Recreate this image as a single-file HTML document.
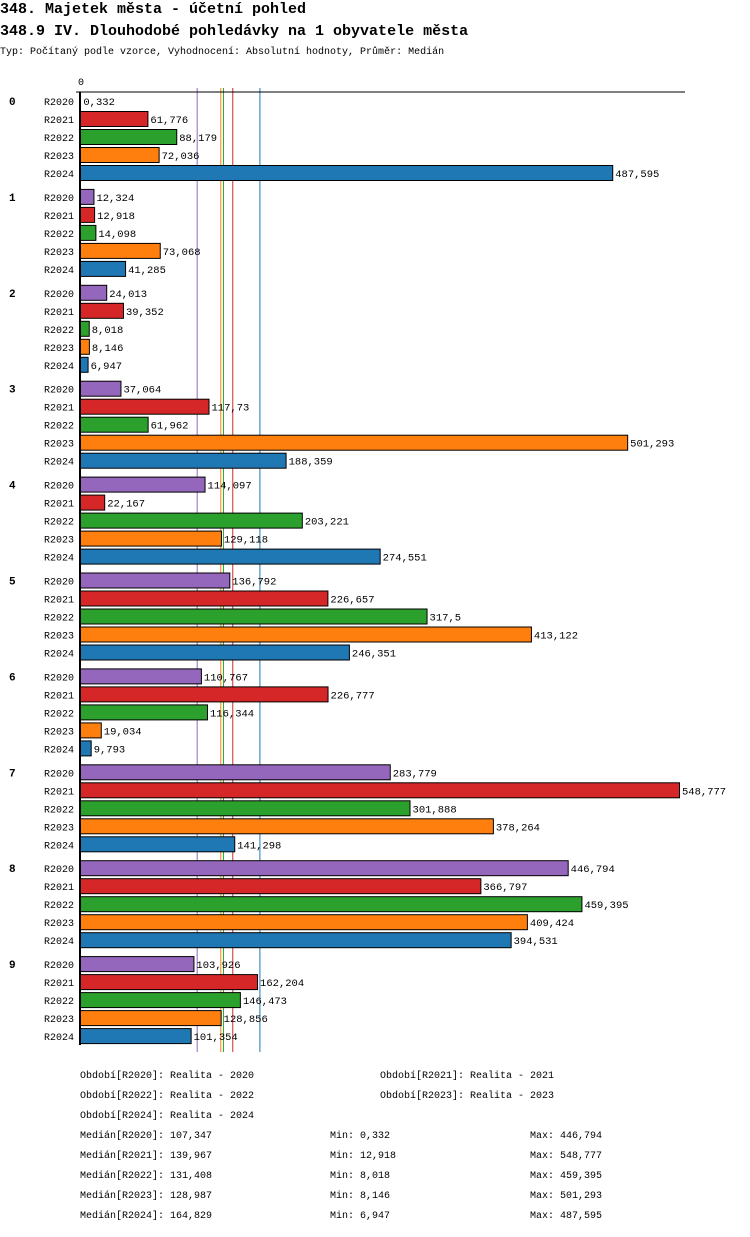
<!DOCTYPE html>
<html><head><meta charset="utf-8"><style>
body{margin:0;background:#fff;width:750px;height:1232px;overflow:hidden;font-family:"Liberation Mono",monospace;}
svg text{font-family:"Liberation Mono",monospace;}
</style></head><body>
<svg id="c" width="750" height="1232" xmlns="http://www.w3.org/2000/svg">
<text x="0" y="13" font-size="15" font-weight="bold">348. Majetek města - účetní pohled</text>
<text x="0" y="35" font-size="15" font-weight="bold">348.9 IV. Dlouhodobé pohledávky na 1 obyvatele města</text>
<text x="0" y="54" font-size="10">Typ: Počítaný podle vzorce, Vyhodnocení: Absolutní hodnoty, Průměr: Medián</text>
<g id="plot"></g>
<g id="foot" font-size="10"></g>
</svg>
<script>
const categories=["0","1","2","3","4","5","6","7","8","9"];
const series=["R2020","R2021","R2022","R2023","R2024"];
const colors=["#9467bd","#d62728","#2ca02c","#ff7f0e","#1f77b4"];
const v2020=[0.332,12.324,24.013,37.064,114.097,136.792,110.767,283.779,446.794,103.926];
const v2021=[61.776,12.918,39.352,117.73,22.167,226.657,226.777,548.777,366.797,162.204];
const v2022=[88.179,14.098,8.018,61.962,203.221,317.5,116.344,301.888,459.395,146.473];
const v2023=[72.036,73.068,8.146,501.293,129.118,413.122,19.034,378.264,409.424,128.856];
const v2024=[487.595,41.285,6.947,188.359,274.551,246.351,9.793,141.298,394.531,101.354];
const medians=[107.347,139.967,131.408,128.987,164.829];
const mins=["0,332","12,918","8,018","8,146","6,947"];
const maxs=["446,794","548,777","459,395","501,293","487,595"];
const values=[v2020,v2021,v2022,v2023,v2024];
const NS="http://www.w3.org/2000/svg";
const x0=80, pxPerUnit=599/548.777;
const X=v=>x0+v*pxPerUnit;
const Y=(g,s)=>101+g*95.9+s*18;
const fmt=v=>String(v).replace('.',',');
const plot=document.getElementById('plot');
function mk(tag,attrs,parent){const e=document.createElementNS(NS,tag);for(const k in attrs)e.setAttribute(k,attrs[k]);(parent||plot).appendChild(e);return e;}
medians.forEach((m,i)=>{
 const l=mk('line',{x1:X(m),x2:X(m),y1:88,y2:1052,stroke:colors[i],'stroke-width':1});
 
 
});
let t=mk('text',{x:x0-2,y:85,'font-size':10});t.textContent='0';


categories.forEach((c,g)=>{
 const ct=mk('text',{x:9,y:Y(g,0)+4,'font-size':11,'font-weight':'bold'});ct.textContent=c;
 
 
 series.forEach((s,si)=>{
  const yc=Y(g,si);const v=values[si][g];
  const lt=mk('text',{x:44,y:yc+4,'font-size':10});lt.textContent=s;
  
  
  const w=X(v)-x0;
  if(w>0.5){
   const r=mk('rect',{x:x0+0.5,y:yc-7.5,width:w,height:15,fill:colors[si],stroke:'#000','stroke-width':1});
   
   
  }
  const vt=mk('text',{x:X(v)+3,y:yc+4,'font-size':10.5});vt.textContent=fmt(v);
  
  
 });
});
let ax=mk('line',{x1:76,x2:685,y1:92,y2:92,stroke:'#000','stroke-width':1});


let ay=mk('line',{x1:x0,x2:x0,y1:92,y2:1045,stroke:'#000','stroke-width':2});


const foot=document.getElementById('foot');
function ft(x,y,s,n){const e=mk('text',{x:x,y:y},foot);e.textContent=s;
 
 }
ft(80,1078,'Období[R2020]: Realita - 2020','legend-entry');
ft(380,1078,'Období[R2021]: Realita - 2021','legend-entry');
ft(80,1098,'Období[R2022]: Realita - 2022','legend-entry');
ft(380,1098,'Období[R2023]: Realita - 2023','legend-entry');
ft(80,1118,'Období[R2024]: Realita - 2024','legend-entry');
series.forEach((s,i)=>{
 const y=1138+i*20;
 ft(80,y,'Medián['+s+']: '+fmt(medians[i]),'median-stat');
 ft(330,y,'Min: '+mins[i],'min-stat');
 ft(530,y,'Max: '+maxs[i],'max-stat');
});
</script>
</body></html>
